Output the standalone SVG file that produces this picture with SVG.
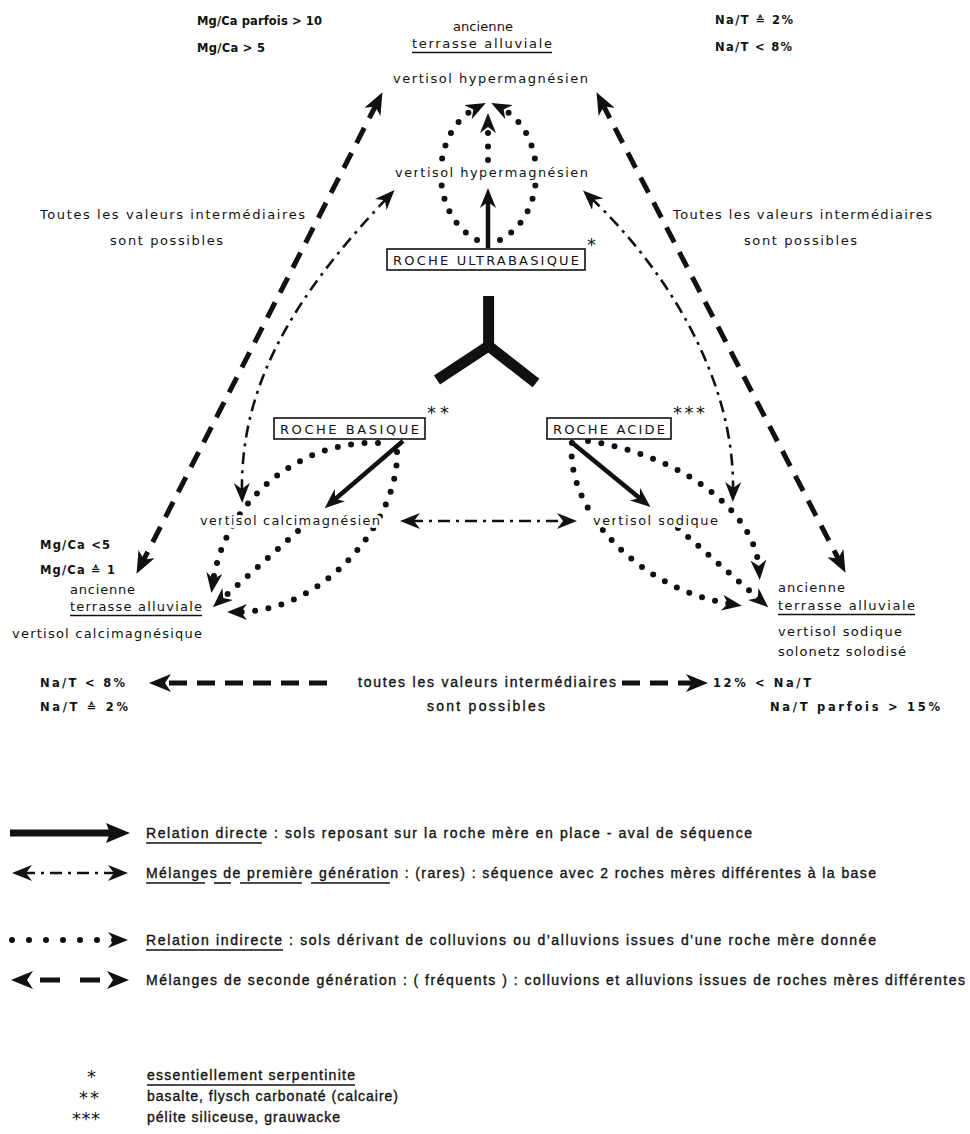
<svg xmlns="http://www.w3.org/2000/svg" width="970" height="1134" viewBox="0 0 970 1134">
<defs>
<style>
.t{font-family:"DejaVu Sans","Liberation Sans",sans-serif;font-size:13px;fill:#111}
.s{font-family:"DejaVu Sans","Liberation Sans",sans-serif;font-size:11.5px;font-weight:bold;fill:#111}
.g{font-family:"Liberation Sans","DejaVu Sans",sans-serif;font-size:14px;fill:#111;stroke:#111;stroke-width:0.35}
.ast{font-family:"DejaVu Sans",sans-serif;font-size:18px;fill:#111}
.h{stroke:#fff;stroke-width:6;paint-order:stroke;stroke-linejoin:round}
.box{fill:#fff;stroke:#111;stroke-width:1.6}
.ul{stroke:#111;stroke-width:1.6}
.dash{fill:none;stroke:#111;stroke-width:5;stroke-dasharray:17 11}
.dd{fill:none;stroke:#111;stroke-width:2.6;stroke-dasharray:12 6 3 6}
.dot{fill:none;stroke:#111;stroke-width:6;stroke-linecap:round;stroke-dasharray:0 13.5}
.sol{fill:none;stroke:#111;stroke-width:4.5}
</style>
<marker id="a" viewBox="0 0 20 16" refX="9" refY="8" markerWidth="20" markerHeight="16" markerUnits="userSpaceOnUse" orient="auto-start-reverse"><path d="M0,0 L20,8 L0,16 L6,8 z" fill="#111"/></marker>
<marker id="b" viewBox="0 0 22 18" refX="10" refY="9" markerWidth="22" markerHeight="18" markerUnits="userSpaceOnUse" orient="auto-start-reverse"><path d="M0,0 L22,9 L0,18 L6,9 z" fill="#111"/></marker>
<marker id="c" viewBox="0 0 24 20" refX="10" refY="10" markerWidth="24" markerHeight="20" markerUnits="userSpaceOnUse" orient="auto-start-reverse"><path d="M0,0 L24,10 L0,20 L4,10 z" fill="#111"/></marker>
</defs>
<rect width="970" height="1134" fill="#fff"/>

<g id="connectors">
  <!-- second generation (dashed) -->
  <path class="dash" d="M377,103 L142,563" marker-start="url(#b)" marker-end="url(#b)"/>
  <path class="dash" d="M602,103 L840,562" marker-start="url(#b)" marker-end="url(#b)"/>
  <!-- first generation (dash-dot) -->
  <path class="dd" d="M387,198 C300,290 240,380 242,492" marker-start="url(#a)" marker-end="url(#a)"/>
  <path class="dd" d="M591,198 C665,268 735,378 733,491" marker-start="url(#a)" marker-end="url(#a)"/>
  <path class="dd" d="M411,521 L566,521" marker-start="url(#a)" marker-end="url(#a)"/>
  <!-- direct relations -->
  <path class="sol" d="M488,248 L488,199" marker-end="url(#a)"/>
  <path class="sol" d="M403,441 L333,501" marker-end="url(#a)"/>
  <path class="sol" d="M570,441 L642,500" marker-end="url(#a)"/>
  <!-- indirect relations (dotted) -->
  <path class="dot" d="M477,240 C428,214 430,132 476,108" marker-end="url(#a)"/>
  <path class="dot" d="M500,240 C549,214 547,132 501,108" marker-end="url(#a)"/>
  <path class="dot" d="M488,160 L488,124" marker-end="url(#a)"/>
  <path class="dot" d="M378,443 C300,440 225,500 213,582" marker-end="url(#a)"/>
  <path class="dot" d="M298,531 L221,600" marker-end="url(#a)"/>
  <path class="dot" d="M397,452 C399,520 325,612 238,612" marker-end="url(#a)"/>
  <path class="dot" d="M572,443 C565,510 640,590 731,604" marker-end="url(#a)"/>
  <path class="dot" d="M588,441 C680,455 755,510 759,569" marker-end="url(#a)"/>
  <path class="dot" d="M678,528 L760,600" marker-end="url(#a)"/>
  <!-- bottom range arrow -->
  <path class="dash" d="M161,683 L337,683" style="stroke-dasharray:18 10;stroke-dashoffset:20" marker-start="url(#b)"/>
  <path class="dash" d="M622,683 L696,683" style="stroke-dasharray:18 10" marker-end="url(#b)"/>
</g>

<g id="top-labels">
  <text class="s" x="197" y="25" textLength="125" lengthAdjust="spacing">Mg/Ca parfois &gt; 10</text>
  <text class="s" x="197" y="52" textLength="68" lengthAdjust="spacing">Mg/Ca &gt; 5</text>
  <text class="s" x="715" y="24" textLength="78" lengthAdjust="spacing">Na/T ≙ 2%</text>
  <text class="s" x="715" y="51" textLength="77" lengthAdjust="spacing">Na/T &lt; 8%</text>
</g>

<g id="node-top-terrace">
  <text class="t" x="453" y="31" textLength="60" lengthAdjust="spacing">ancienne</text>
  <text class="t" x="412" y="48" textLength="140" lengthAdjust="spacing">terrasse alluviale</text>
  <line class="ul" x1="412" y1="52.5" x2="552" y2="52.5"/>
  <text class="t" x="393" y="83" textLength="195" lengthAdjust="spacing">vertisol hypermagnésien</text>
</g>

<g id="node-mid-hyper">
  <text class="t h" x="395" y="177" textLength="193" lengthAdjust="spacing">vertisol hypermagnésien</text>
</g>

<g id="side-notes">
  <text class="t" x="40" y="219" textLength="265" lengthAdjust="spacing">Toutes les valeurs intermédiaires</text>
  <text class="t" x="110" y="245" textLength="113" lengthAdjust="spacing">sont possibles</text>
  <text class="t" x="673" y="219" textLength="259" lengthAdjust="spacing">Toutes les valeurs intermédiaires</text>
  <text class="t" x="744" y="245" textLength="113" lengthAdjust="spacing">sont possibles</text>
</g>

<g id="node-ultrabasique">
  <rect class="box" x="387" y="249" width="198" height="21"/>
  <text class="t" x="393" y="265" textLength="186" lengthAdjust="spacing">ROCHE ULTRABASIQUE</text>
  <text class="ast" x="587" y="251">*</text>
</g>

<g id="y-symbol">
  <path d="M488.6,296 L488.6,346 M437,380 L488.6,346 L536,383" fill="none" stroke="#111" stroke-width="11"/>
</g>

<g id="node-basique">
  <rect class="box" x="274" y="418" width="151" height="21"/>
  <text class="t" x="280" y="434" textLength="139" lengthAdjust="spacing">ROCHE BASIQUE</text>
  <text class="ast" x="427" y="419" textLength="22" lengthAdjust="spacing">**</text>
</g>

<g id="node-acide">
  <rect class="box" x="547" y="418" width="124" height="21"/>
  <text class="t" x="553" y="434" textLength="112" lengthAdjust="spacing">ROCHE ACIDE</text>
  <text class="ast" x="673" y="419" textLength="32" lengthAdjust="spacing">***</text>
</g>

<g id="node-calcimagnesien">
  <text class="t h" x="200" y="525" textLength="180" lengthAdjust="spacing">vertisol calcimagnésien</text>
</g>

<g id="node-sodique">
  <text class="t h" x="593" y="525" textLength="125" lengthAdjust="spacing">vertisol sodique</text>
</g>

<g id="node-left-terrace">
  <text class="s" x="40" y="549" textLength="70" lengthAdjust="spacing">Mg/Ca &lt;5</text>
  <text class="s" x="40" y="574" textLength="75" lengthAdjust="spacing">Mg/Ca ≙ 1</text>
  <text class="t" x="70" y="594" textLength="65" lengthAdjust="spacing">ancienne</text>
  <text class="t" x="70" y="611" textLength="132" lengthAdjust="spacing">terrasse alluviale</text>
  <line class="ul" x1="70" y1="615.5" x2="202" y2="615.5"/>
  <text class="t" x="12" y="638" textLength="190" lengthAdjust="spacing">vertisol calcimagnésique</text>
</g>

<g id="node-right-terrace">
  <text class="t" x="778" y="592" textLength="67" lengthAdjust="spacing">ancienne</text>
  <text class="t" x="778" y="610" textLength="137" lengthAdjust="spacing">terrasse alluviale</text>
  <line class="ul" x1="778" y1="614.5" x2="915" y2="614.5"/>
  <text class="t" x="778" y="636" textLength="124" lengthAdjust="spacing">vertisol sodique</text>
  <text class="t" x="778" y="656" textLength="128" lengthAdjust="spacing">solonetz solodisé</text>
</g>

<g id="bottom-range">
  <text class="s" x="40" y="687" textLength="85" lengthAdjust="spacing">Na/T &lt; 8%</text>
  <text class="s" x="40" y="711" textLength="88" lengthAdjust="spacing">Na/T ≙ 2%</text>
  <text class="g" x="358" y="687" textLength="258" lengthAdjust="spacing">toutes les valeurs intermédiaires</text>
  <text class="g" x="427" y="711" textLength="118" lengthAdjust="spacing">sont possibles</text>
  <text class="s" x="713" y="687" textLength="98" lengthAdjust="spacing">12% &lt; Na/T</text>
  <text class="s" x="770" y="711" textLength="170" lengthAdjust="spacing">Na/T parfois &gt; 15%</text>
</g>

<g id="legend">
  <path d="M10,833 L116,833" fill="none" stroke="#111" stroke-width="7" marker-end="url(#c)"/>
  <text class="g" x="146" y="838" textLength="606" lengthAdjust="spacing">Relation directe : sols reposant sur la roche mère en place - aval de séquence</text>
  <line class="ul" x1="146" y1="843" x2="262" y2="843"/>

  <path class="dd" d="M23,873 L117,873" marker-start="url(#a)" marker-end="url(#a)"/>
  <text class="g" x="146" y="878" textLength="730" lengthAdjust="spacing">Mélanges de première génération : (rares) : séquence avec 2 roches mères différentes à la base</text>
  <line class="ul" x1="146" y1="883" x2="205" y2="883"/>
  <line class="ul" x1="214" y1="883" x2="231" y2="883"/>
  <line class="ul" x1="240" y1="883" x2="302" y2="883"/>
  <line class="ul" x1="311" y1="883" x2="390" y2="883"/>

  <path class="dot" d="M12,940 L117,940" style="stroke-dasharray:0 17" marker-end="url(#a)"/>
  <text class="g" x="146" y="945" textLength="730" lengthAdjust="spacing">Relation indirecte : sols dérivant de colluvions ou d'alluvions issues d'une roche mère donnée</text>
  <line class="ul" x1="146" y1="950" x2="283" y2="950"/>

  <path class="dash" d="M23,980 L117,980" style="stroke-dasharray:0 17 20 20 20 17" marker-start="url(#b)" marker-end="url(#b)"/>
  <text class="g" x="146" y="985" textLength="819" lengthAdjust="spacing">Mélanges de seconde génération : ( fréquents ) : colluvions et alluvions issues de roches mères différentes</text>
</g>

<g id="footnotes">
  <text class="ast" x="87" y="1083">*</text>
  <text class="g" x="147" y="1080" textLength="208" lengthAdjust="spacing">essentiellement serpentinite</text>
  <line class="ul" x1="147" y1="1085" x2="355" y2="1085"/>
  <text class="ast" x="79" y="1104" textLength="20" lengthAdjust="spacing">**</text>
  <text class="g" x="147" y="1101" textLength="251" lengthAdjust="spacing">basalte, flysch carbonaté (calcaire)</text>
  <text class="ast" x="72" y="1125" textLength="28" lengthAdjust="spacing">***</text>
  <text class="g" x="147" y="1122" textLength="193" lengthAdjust="spacing">pélite siliceuse, grauwacke</text>
</g>
</svg>
